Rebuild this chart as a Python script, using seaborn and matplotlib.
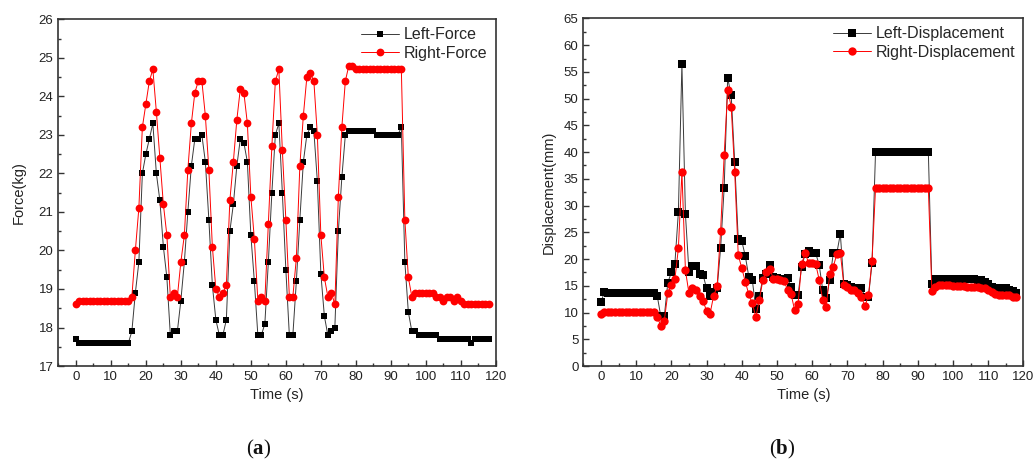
import numpy as np
import pandas as pd
import matplotlib
matplotlib.use("Agg")
import matplotlib.pyplot as plt
from matplotlib.ticker import MultipleLocator
import seaborn as sns

# time axis (s), one sample per second
time_s = list(range(119))

left_force = [
    17.7, 17.6, 17.6, 17.6, 17.6, 17.6, 17.6, 17.6, 17.6, 17.6,
    17.6, 17.6, 17.6, 17.6, 17.6, 17.6, 17.9, 18.9, 19.7, 22.0,
    22.5, 22.9, 23.3, 22.0, 21.3, 20.1, 19.3, 17.8, 17.9, 17.9,
    18.7, 19.7, 21.0, 22.2, 22.9, 22.9, 23.0, 22.3, 20.8, 19.1,
    18.2, 17.8, 17.8, 18.2, 20.5, 21.2, 22.2, 22.9, 22.8, 22.3,
    20.4, 19.2, 17.8, 17.8, 18.1, 19.7, 21.5, 23.0, 23.3, 21.5,
    19.5, 17.8, 17.8, 19.2, 20.8, 22.3, 23.0, 23.2, 23.1, 21.8,
    19.4, 18.3, 17.8, 17.9, 18.0, 20.5, 21.9, 23.0, 23.1, 23.1,
    23.1, 23.1, 23.1, 23.1, 23.1, 23.1, 23.0, 23.0, 23.0, 23.0,
    23.0, 23.0, 23.0, 23.2, 19.7, 18.4, 17.9, 17.9, 17.8, 17.8,
    17.8, 17.8, 17.8, 17.8, 17.7, 17.7, 17.7, 17.7, 17.7, 17.7,
    17.7, 17.7, 17.7, 17.6, 17.7, 17.7, 17.7, 17.7, 17.7,
]

right_force = [
    18.6, 18.7, 18.7, 18.7, 18.7, 18.7, 18.7, 18.7, 18.7, 18.7,
    18.7, 18.7, 18.7, 18.7, 18.7, 18.7, 18.8, 20.0, 21.1, 23.2,
    23.8, 24.4, 24.7, 23.6, 22.4, 21.2, 20.4, 18.8, 18.9, 18.8,
    19.7, 20.4, 22.1, 23.3, 24.1, 24.4, 24.4, 23.5, 22.1, 20.1,
    19.0, 18.8, 18.9, 19.1, 21.3, 22.3, 23.4, 24.2, 24.1, 23.3,
    21.4, 20.3, 18.7, 18.8, 18.7, 20.7, 22.7, 24.4, 24.7, 22.6,
    20.8, 18.8, 18.8, 19.8, 22.2, 23.5, 24.5, 24.6, 24.4, 23.0,
    20.4, 19.3, 18.8, 18.9, 18.6, 21.4, 23.2, 24.4, 24.8, 24.8,
    24.7, 24.7, 24.7, 24.7, 24.7, 24.7, 24.7, 24.7, 24.7, 24.7,
    24.7, 24.7, 24.7, 24.7, 20.8, 19.3, 18.8, 18.9, 18.9, 18.9,
    18.9, 18.9, 18.9, 18.8, 18.8, 18.7, 18.8, 18.8, 18.7, 18.8,
    18.7, 18.6, 18.6, 18.6, 18.6, 18.6, 18.6, 18.6, 18.6,
]

left_disp = [
    12.0, 13.8, 13.6, 13.6, 13.6, 13.6, 13.6, 13.6, 13.6, 13.6,
    13.6, 13.6, 13.6, 13.6, 13.6, 13.6, 13.1, 9.3, 9.3, 15.6,
    17.5, 19.1, 28.8, 56.5, 28.4, 17.6, 18.7, 18.7, 17.2, 17.1,
    14.5, 13.1, 13.8, 14.5, 22.1, 33.3, 53.9, 50.6, 38.1, 23.7,
    23.4, 20.6, 16.7, 16.1, 10.6, 13.1, 16.4, 17.3, 18.8, 16.7,
    16.4, 16.3, 16.3, 16.4, 14.8, 13.3, 13.3, 18.6, 20.9, 21.5,
    21.1, 21.1, 18.9, 14.2, 12.7, 16.1, 21.1, 21.1, 24.7, 15.4,
    15.1, 14.7, 14.5, 14.5, 14.5, 13.0, 13.0, 19.2, 40.0, 40.0,
    40.0, 40.0, 40.0, 40.0, 40.0, 40.0, 40.0, 40.0, 40.0, 40.0,
    40.0, 40.0, 40.0, 40.0, 15.3, 16.2, 16.3, 16.3, 16.3, 16.3,
    16.3, 16.3, 16.3, 16.3, 16.2, 16.2, 16.2, 16.1, 16.0, 15.8,
    15.3, 14.8, 14.6, 14.6, 14.6, 14.6, 14.2, 14.0, 13.7,
]

right_disp = [
    9.8, 10.1, 10.1, 10.1, 10.1, 10.1, 10.1, 10.1, 10.1, 10.1,
    10.1, 10.1, 10.1, 10.1, 10.1, 10.1, 9.2, 7.5, 8.5, 13.6,
    15.2, 16.2, 22.0, 36.3, 17.9, 13.6, 14.5, 14.3, 13.1, 12.2,
    10.3, 9.8, 13.1, 14.9, 25.3, 39.4, 51.6, 48.5, 36.2, 20.8,
    18.3, 15.8, 13.4, 11.7, 9.2, 12.4, 16.1, 17.5, 18.1, 16.3,
    16.2, 16.1, 15.9, 14.3, 13.5, 10.5, 11.6, 19.1, 21.1, 19.3,
    19.3, 19.1, 16.1, 12.4, 11.1, 17.2, 18.6, 20.9, 21.2, 15.1,
    14.7, 14.3, 14.2, 13.7, 12.9, 11.2, 13.2, 19.7, 33.2, 33.2,
    33.2, 33.2, 33.2, 33.2, 33.2, 33.2, 33.2, 33.2, 33.2, 33.2,
    33.2, 33.2, 33.2, 33.2, 14.0, 14.8, 15.1, 15.1, 15.1, 15.1,
    15.0, 15.0, 15.0, 15.0, 14.8, 14.8, 14.7, 14.7, 14.6, 14.5,
    14.2, 13.8, 13.4, 13.3, 13.3, 13.3, 13.2, 13.0, 12.9,
]

sns.set_style("ticks")
plt.rcParams["font.family"] = ["Liberation Sans", "DejaVu Sans"]
plt.rcParams["mathtext.fontset"] = "custom"
plt.rcParams["mathtext.rm"] = "Liberation Serif"
plt.rcParams["mathtext.bf"] = "Liberation Serif:bold"

fig = plt.figure(figsize=(10.33, 4.61), dpi=100)
ax1 = fig.add_axes([0.0565, 0.206, 0.4235, 0.752])
ax2 = fig.add_axes([0.5647, 0.206, 0.426, 0.754])

edge = "#333333"


def draw(ax, ya, yb, la, lb, sq, circ):
    sns.lineplot(x=time_s, y=ya, ax=ax, color="#3a3a3a", lw=0.7, marker="s",
                 markersize=sq, markerfacecolor="black", markeredgecolor="black",
                 markeredgewidth=0, label=la)
    sns.lineplot(x=time_s, y=yb, ax=ax, color="red", lw=0.7, marker="o",
                 markersize=circ, markerfacecolor="red", markeredgecolor="red",
                 markeredgewidth=0, label=lb)
    ax.set_xlim(-5, 120)
    ax.xaxis.set_major_locator(MultipleLocator(10))
    ax.xaxis.set_minor_locator(MultipleLocator(5))
    ax.set_xlabel("Time (s)", fontsize=10.5, color="#222222", labelpad=4)
    ax.tick_params(which="both", direction="in", top=False, right=False,
                   colors=edge, labelcolor="#222222", labelsize=9.5)
    ax.tick_params(which="major", length=4, width=1)
    ax.tick_params(which="minor", length=2.5, width=1)
    for s in ax.spines.values():
        s.set_visible(True)
        s.set_color(edge)
        s.set_linewidth(1.2)
    leg = ax.legend(loc="upper right", frameon=False, fontsize=11.5,
                    handlelength=2.4, handletextpad=0.3, labelspacing=0.2,
                    borderaxespad=0.1)
    return leg


draw(ax1, left_force, right_force, "Left-Force", "Right-Force", 5.0, 5.6)
ax1.set_ylim(17, 26)
ax1.yaxis.set_major_locator(MultipleLocator(1))
ax1.yaxis.set_minor_locator(MultipleLocator(0.5))
ax1.set_ylabel("Force(kg)", fontsize=10.5, color="#222222", labelpad=9)

draw(ax2, left_disp, right_disp, "Left-Displacement", "Right-Displacement", 5.3, 6.0)
ax2.set_ylim(0, 65)
ax2.yaxis.set_major_locator(MultipleLocator(5))
ax2.yaxis.set_minor_locator(MultipleLocator(2.5))
ax2.set_ylabel("Displacement(mm)", fontsize=10.5, color="#222222", labelpad=6)

fig.text(0.25, 0.026, r"($\mathbf{a}$)", family="Liberation Serif",
         fontsize=15, ha="center", va="center", color="#111111")
fig.text(0.757, 0.026, r"($\mathbf{b}$)", family="Liberation Serif",
         fontsize=15, ha="center", va="center", color="#111111")

fig.savefig("out.png", dpi=100)
